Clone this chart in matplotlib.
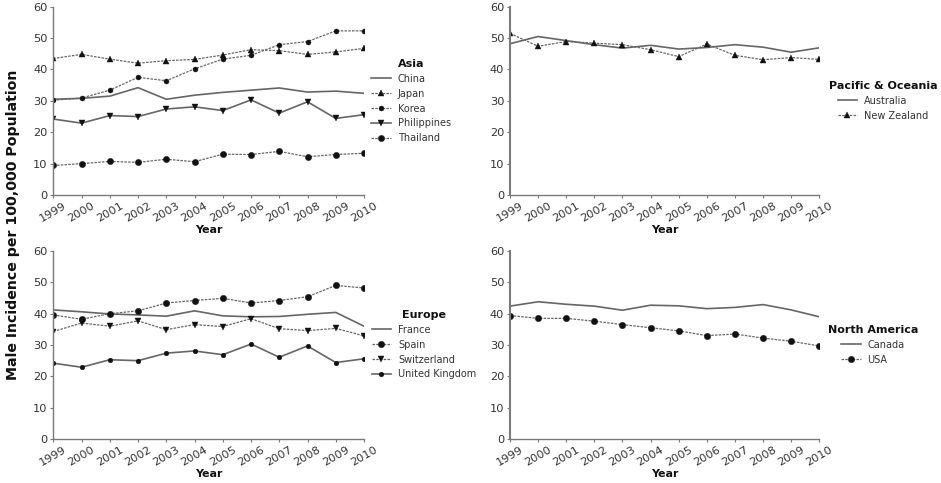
import matplotlib
matplotlib.use('Agg')
import matplotlib.pyplot as plt

plt.rcParams['font.family'] = 'DejaVu Sans'

years = [1999, 2000, 2001, 2002, 2003, 2004, 2005, 2006, 2007, 2008, 2009, 2010]
year_labels = [str(y) for y in years]

china = [30.5, 30.8, 31.5, 34.2, 30.5, 31.8, 32.7, 33.4, 34.1, 32.8, 33.1, 32.4]
japan = [43.5, 44.8, 43.3, 42.0, 42.8, 43.2, 44.6, 46.3, 46.0, 44.8, 45.6, 46.7]
korea = [30.2, 30.9, 33.4, 37.5, 36.4, 40.2, 43.3, 44.5, 47.9, 48.9, 52.3, 52.3]
philippines = [24.2, 22.9, 25.3, 25.0, 27.4, 28.1, 26.9, 30.3, 26.1, 29.7, 24.4, 25.6]
thailand = [9.4, 10.0, 10.7, 10.4, 11.4, 10.6, 13.0, 12.9, 13.9, 12.2, 12.9, 13.3]

australia = [48.2, 50.5, 49.2, 47.9, 46.8, 47.7, 46.5, 47.0, 47.9, 47.1, 45.5, 46.9]
new_zealand = [51.5, 47.4, 48.9, 48.4, 47.9, 46.3, 44.1, 48.1, 44.5, 43.1, 43.8, 43.2]

france = [41.2, 40.6, 39.9, 39.6, 39.2, 40.9, 39.3, 39.0, 39.1, 39.8, 40.4, 36.0]
spain = [39.6, 38.2, 40.0, 40.9, 43.4, 44.2, 44.9, 43.4, 44.2, 45.4, 49.0, 48.2]
switzerland = [34.3, 37.0, 36.0, 37.7, 34.9, 36.5, 35.9, 38.4, 35.2, 34.6, 35.3, 32.9]
uk = [24.2, 22.9, 25.3, 25.0, 27.4, 28.1, 26.9, 30.3, 26.1, 29.7, 24.4, 25.6]

canada = [42.4, 43.8, 43.0, 42.4, 41.1, 42.7, 42.5, 41.6, 42.0, 42.9, 41.2, 39.0]
usa = [39.4, 38.5, 38.5, 37.6, 36.5, 35.5, 34.5, 33.0, 33.5, 32.2, 31.2, 29.7]

W, H = 941.0, 483.0
GREY = '#7a7a7a'
TEXT = '#333333'
DASH = (0, (2, 1))

fig = plt.figure(figsize=(9.41, 4.83), dpi=100, facecolor='w')


def panel(left, right, top, bottom, title, series, leg_x, leg_top, left_lw=1.0):
    ax = fig.add_axes([left / W, 1 - bottom / H, (right - left) / W, (bottom - top) / H])
    for name, vals, ls, mk, ms in series:
        lw = 1.2 if ls == '-' else 0.9
        ax.plot(years, vals, color='#666666', lw=lw, ls=ls, marker=mk, ms=ms,
                mfc='#111111', mec='#111111', mew=0.3, label=name)
    ax.set_xlim(1999, 2010)
    ax.set_ylim(0, 60)
    ax.set_yticks(range(0, 61, 10))
    ax.set_xticks(years)
    ax.set_xticklabels(year_labels, rotation=30, ha='center', rotation_mode='default')
    ax.tick_params(labelsize=8.2, colors=GREY, labelcolor=TEXT, length=2.2, width=0.8, pad=2)
    ax.spines['top'].set_visible(False)
    ax.spines['right'].set_visible(False)
    ax.spines['bottom'].set_color(GREY)
    ax.spines['left'].set_color(GREY)
    ax.spines['bottom'].set_linewidth(1.0)
    ax.spines['left'].set_linewidth(left_lw)
    ax.set_xlabel('Year', fontsize=8, fontweight='bold', labelpad=0.5, color='#111111')
    leg = ax.legend(title=title, loc='upper center', frameon=False,
                    bbox_to_anchor=(leg_x / W, 1 - leg_top / H), bbox_transform=fig.transFigure,
                    fontsize=7, borderpad=0, borderaxespad=0, handlelength=2.0,
                    handletextpad=0.7, labelspacing=0.5,
                    title_fontproperties={'weight': 'bold', 'size': 8})
    for t in leg.get_texts():
        t.set_color(TEXT)
    leg.get_title().set_color('#111111')
    return ax


panel(53.3, 364, 6.7, 195, 'Asia', [
    ('China', china, '-', None, 0),
    ('Japan', japan, DASH, '^', 4.5),
    ('Korea', korea, DASH, 'o', 3.6),
    ('Philippines', philippines, '-', 'v', 4.5),
    ('Thailand', thailand, DASH, 'o', 4.5),
], 411, 59)

panel(510, 819.3, 6.7, 195, 'Pacific & Oceania', [
    ('Australia', australia, '-', None, 0),
    ('New Zealand', new_zealand, DASH, '^', 4.5),
], 883, 81, left_lw=1.5)

panel(53.3, 364, 251, 439, 'Europe', [
    ('France', france, '-', None, 0),
    ('Spain', spain, DASH, 'o', 4.6),
    ('Switzerland', switzerland, DASH, 'v', 4.5),
    ('United Kingdom', uk, '-', 'o', 3.4),
], 424, 310)

panel(510, 819.3, 251, 439, 'North America', [
    ('Canada', canada, '-', None, 0),
    ('USA', usa, DASH, 'o', 4.6),
], 873, 325, left_lw=1.5)

fig.text(13.5 / W, 1 - 225 / H, 'Male Incidence per 100,000 Population', rotation=90,
         ha='center', va='center', fontsize=10.2, fontweight='bold', color='#111111')

fig.savefig('out.png', dpi=100)
